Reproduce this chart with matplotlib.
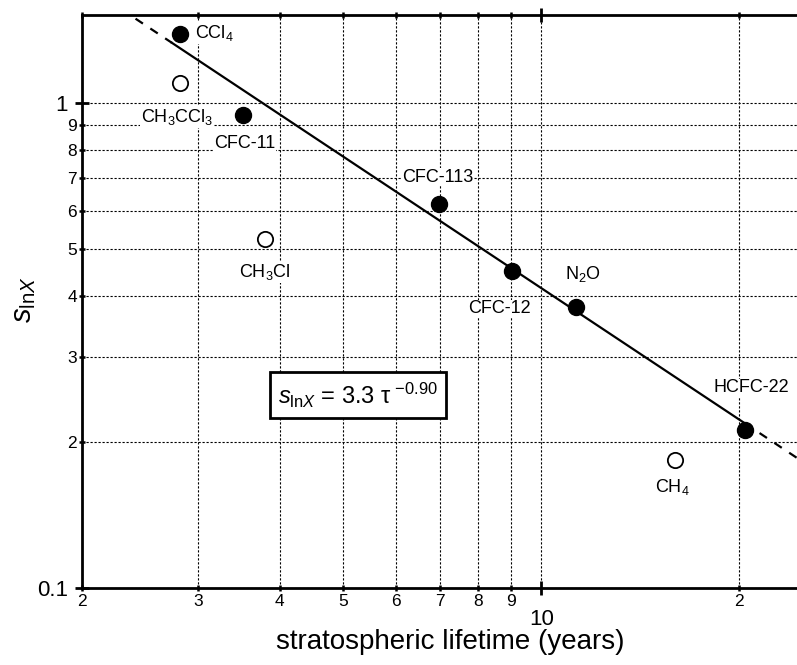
import numpy as np
import matplotlib
matplotlib.use("Agg")
import matplotlib.pyplot as plt
from matplotlib.ticker import FixedLocator, FixedFormatter

plt.rcParams['font.family'] = ['Liberation Sans', 'DejaVu Sans']
plt.rcParams['mathtext.fontset'] = 'custom'
plt.rcParams['mathtext.rm'] = 'Liberation Sans'
plt.rcParams['mathtext.it'] = 'Liberation Sans:italic'
plt.rcParams['mathtext.bf'] = 'Liberation Sans:bold'

# ---- data ----
filled_names = ['CCl$_4$', 'CFC-11', 'CFC-113', 'CFC-12', 'N$_2$O', 'HCFC-22']
filled_tau = [2.82, 3.51, 6.99, 9.02, 11.3, 20.4]
filled_s = [1.39, 0.945, 0.619, 0.451, 0.380, 0.212]

open_names = ['CH$_3$CCl$_3$', 'CH$_3$Cl', 'CH$_4$']
open_tau = [2.82, 3.80, 16.0]
open_s = [1.10, 0.524, 0.184]

fit_A = 3.3
fit_b = -0.90
fit_solid_range = (2.74, 20.4)

x_minor_ticks = [2, 3, 4, 5, 6, 7, 8, 9, 20]
x_minor_labels = ['2', '3', '4', '5', '6', '7', '8', '9', '2']
x_major_ticks = [10]
x_major_labels = ['10']
y_major_ticks = [0.1, 1]
y_major_labels = ['0.1', '1']
y_minor_ticks = [0.2, 0.3, 0.4, 0.5, 0.6, 0.7, 0.8, 0.9]
y_minor_labels = ['2', '3', '4', '5', '6', '7', '8', '9']

xlim = (2, 24.5)
ylim = (0.1, 1.52)

# label offsets (pixels) relative to points
filled_offsets = [(15, 1, 'left'), (2, -28, 'center'), (-1, 27, 'center'),
                  (-12, -38, 'center'), (7, 33, 'center'), (7, 42, 'center')]
open_offsets = [(-3, -34, 'center'), (0, -33, 'center'), (-3, -27, 'center')]

fig = plt.figure(figsize=(7.97, 6.65), dpi=100)
ax = fig.add_axes([82/797, 1-588/665, 1-82/797, (588-15)/665])
ax.set_xscale('log')
ax.set_yscale('log')
ax.set_xlim(*xlim)
ax.set_ylim(*ylim)

# ticks
ax.xaxis.set_major_locator(FixedLocator(x_major_ticks))
ax.xaxis.set_major_formatter(FixedFormatter(x_major_labels))
ax.xaxis.set_minor_locator(FixedLocator(x_minor_ticks))
ax.xaxis.set_minor_formatter(FixedFormatter(x_minor_labels))
ax.yaxis.set_major_locator(FixedLocator(y_major_ticks))
ax.yaxis.set_major_formatter(FixedFormatter(y_major_labels))
ax.yaxis.set_minor_locator(FixedLocator(y_minor_ticks))
ax.yaxis.set_minor_formatter(FixedFormatter(y_minor_labels))

ax.tick_params(axis='both', which='major', direction='inout', length=10, width=2, labelsize=16)
ax.tick_params(axis='both', which='minor', direction='inout', length=5, width=1.8, labelsize=12.5)
ax.tick_params(axis='x', which='major', pad=10, top=True)
ax.tick_params(axis='x', which='minor', pad=1.5, top=True)
ax.tick_params(axis='y', which='major', pad=5)
ax.tick_params(axis='y', which='minor', pad=1)

for side in ['left', 'bottom', 'top']:
    ax.spines[side].set_linewidth(2)
ax.spines['right'].set_visible(False)

ax.grid(True, which='both', color='black', linestyle=(0, (2, 1.6)), linewidth=0.8)
ax.set_axisbelow(True)

# fit line
t_solid = np.geomspace(fit_solid_range[0], fit_solid_range[1], 100)
ax.plot(t_solid, fit_A * t_solid ** fit_b, color='black', lw=1.6, zorder=3)
t_lo = np.geomspace(xlim[0], fit_solid_range[0], 30)
t_hi = np.geomspace(fit_solid_range[1], xlim[1], 30)
for t in (t_lo, t_hi):
    ax.plot(t, fit_A * t ** fit_b, color='black', lw=1.6, linestyle=(0, (4, 4)), zorder=3)

# points
ax.plot(filled_tau, filled_s, 'o', color='black', markersize=11.5, zorder=5, clip_on=False)
ax.plot(open_tau, open_s, 'o', markerfacecolor='white', markeredgecolor='black',
        markeredgewidth=1.3, markersize=11, zorder=5)

for name, tx, sy, (dx, dy, ha) in zip(filled_names, filled_tau, filled_s, filled_offsets):
    ax.annotate(name, (tx, sy), xytext=(dx, dy), textcoords='offset pixels',
                ha=ha, va='center', fontsize=13, zorder=4,
                bbox=dict(facecolor='white', edgecolor='none', pad=0.5))
for name, tx, sy, (dx, dy, ha) in zip(open_names, open_tau, open_s, open_offsets):
    ax.annotate(name, (tx, sy), xytext=(dx, dy), textcoords='offset pixels',
                ha=ha, va='center', fontsize=13, zorder=4,
                bbox=dict(facecolor='white', edgecolor='none', pad=0.5))

# formula box
ax.text((358-82)/715, (588-395)/573, r'$s_{\mathrm{ln}X}$ = 3.3 τ$^{\ {-}0.90}$',
        transform=ax.transAxes, ha='center', va='center', fontsize=17, zorder=6,
        bbox=dict(boxstyle='square,pad=0.35', facecolor='white', edgecolor='black', linewidth=2))

fig.text(24/797, 1-300/665, r'$s_{\mathrm{ln}X}$', rotation=90, ha='center', va='center', fontsize=21)
fig.text(450/797, 1-642/665, 'stratospheric lifetime (years)', ha='center', va='center', fontsize=20)

fig.savefig('out.png', dpi=100)
